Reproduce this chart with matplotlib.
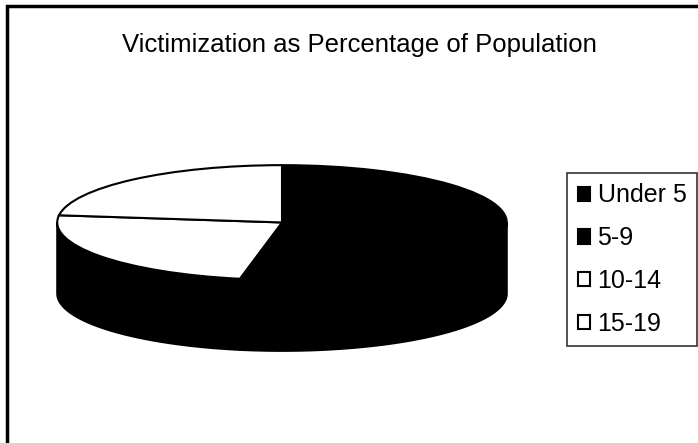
import numpy as np
import matplotlib
matplotlib.use('Agg')
import matplotlib.pyplot as plt
from matplotlib.patches import Polygon, Rectangle

plt.rcParams['font.family'] = ['Liberation Sans', 'DejaVu Sans']

# data (share of each age group)
labels = ['Under 5', '5-9', '10-14', '15-19']
values = [27, 26, 24, 23]
top_colors = ['black', 'black', 'white', 'white']
side_colors = ['black', 'black', 'black', 'black']

depth = 1.24  # side wall height, in units of the (squashed) radius

fig = plt.figure(figsize=(6.98, 4.43), dpi=100)

# chart area border (only left/top visible in the scan)
fig.patches.append(Rectangle((7 / 698, -0.1), 1.2, 1.1 - 6 / 443, transform=fig.transFigure,
                             fill=False, edgecolor='black', linewidth=2.5))

fig.text(0.515, 1 - 45 / 443, 'Victimization as Percentage of Population',
         ha='center', va='center', fontsize=18.5)

ax = fig.add_axes([55 / 698, 1 - 352 / 443, 454 / 698, (352 - 164) / 443])

# side walls of the front half, one piece per slice
fracs = np.array(values) / sum(values)
start = 90.0
for frac, col in zip(fracs, side_colors):
    end = start - frac * 360
    lo, hi = max(min(start, end), -180), min(max(start, end), 0)
    if hi > lo:
        t = np.radians(np.linspace(lo, hi, 100))
        xs = np.concatenate([np.cos(t), np.cos(t[::-1])])
        ys = np.concatenate([np.sin(t), np.sin(t[::-1]) - depth])
        ax.add_patch(Polygon(np.column_stack([xs, ys]), closed=True,
                             facecolor=col, edgecolor='black', linewidth=1.5))
    start = end

wedges, _ = ax.pie(values, colors=top_colors, startangle=90, counterclock=False,
                   radius=1, wedgeprops=dict(edgecolor='black', linewidth=1.5))
ax.set_aspect('auto')
ax.set_xlim(-1.01, 1.01)
ax.set_ylim(-1 - depth - 0.02, 1.02)
ax.axis('off')

handles = [Rectangle((0, 0), 1, 1, facecolor=c, edgecolor='black', linewidth=1.5) for c in top_colors]
leg = fig.legend(handles, labels, loc='upper left', bbox_to_anchor=(567 / 698, 1 - 173 / 443),
                 fontsize=18, frameon=True, fancybox=False, edgecolor='black',
                 handlelength=0.5, handleheight=0.5, handletextpad=0.3,
                 labelspacing=0.75, borderpad=0.42, borderaxespad=0)
leg.get_frame().set_linewidth(1.2)

fig.savefig('out.png', dpi=100)
